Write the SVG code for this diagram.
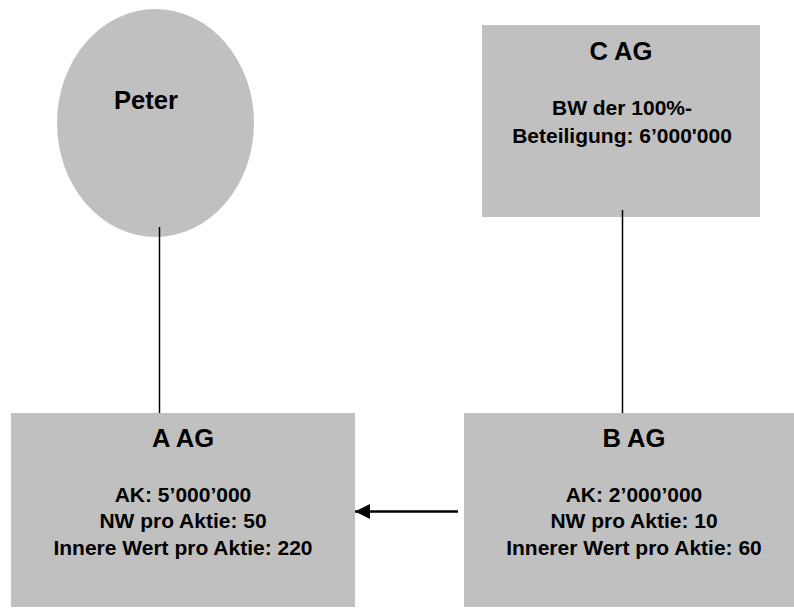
<svg xmlns="http://www.w3.org/2000/svg" width="794" height="608" viewBox="0 0 794 608">
<style>
.shape{fill:#C0C0C0;stroke:none}
.t{font-family:"Liberation Sans",Arial,sans-serif;font-weight:bold;fill:#000;text-anchor:middle}
.title{font-size:25.6px}
.body{font-size:21px}
.conn{stroke:#000;stroke-width:1.5;fill:none}
.arrow{stroke:#000;stroke-width:2.5;fill:none}
</style>
<defs>
<marker id="ah" markerUnits="userSpaceOnUse" markerWidth="16" markerHeight="16" refX="15" refY="7.5" orient="auto">
<path d="M0,0 L15,7.5 L0,15 Z" fill="#000"/>
</marker>
</defs>
<rect width="794" height="608" fill="#fff"/>
<g id="peter">
<ellipse class="shape" cx="155.5" cy="123" rx="98.5" ry="114"/>
<text class="t title" x="146" y="109">Peter</text>
</g>
<g id="c-ag">
<rect class="shape" x="482" y="25" width="278" height="192"/>
<text class="t title" x="621" y="60">C AG</text>
<text class="t body" x="622" y="115">BW der 100%-</text>
<text class="t body" x="622" y="143">Beteiligung: 6’000'000</text>
</g>
<g id="a-ag">
<rect class="shape" x="11" y="413" width="344" height="194"/>
<text class="t title" x="183" y="447">A AG</text>
<text class="t body" x="183" y="502">AK: 5’000’000</text>
<text class="t body" x="183" y="528">NW pro Aktie: 50</text>
<text class="t body" x="183" y="555">Innere Wert pro Aktie: 220</text>
</g>
<g id="b-ag">
<rect class="shape" x="464" y="413" width="340" height="194"/>
<text class="t title" x="634" y="447">B AG</text>
<text class="t body" x="634" y="502">AK: 2’000’000</text>
<text class="t body" x="634" y="528">NW pro Aktie: 10</text>
<text class="t body" x="634" y="555">Innerer Wert pro Aktie: 60</text>
</g>
<g id="connectors">
<line class="conn" x1="159.5" y1="227" x2="159.5" y2="413"/>
<line class="conn" x1="622.5" y1="210" x2="622.5" y2="413"/>
<line class="arrow" x1="458" y1="511.5" x2="355" y2="511.5" marker-end="url(#ah)"/>
</g>
</svg>
